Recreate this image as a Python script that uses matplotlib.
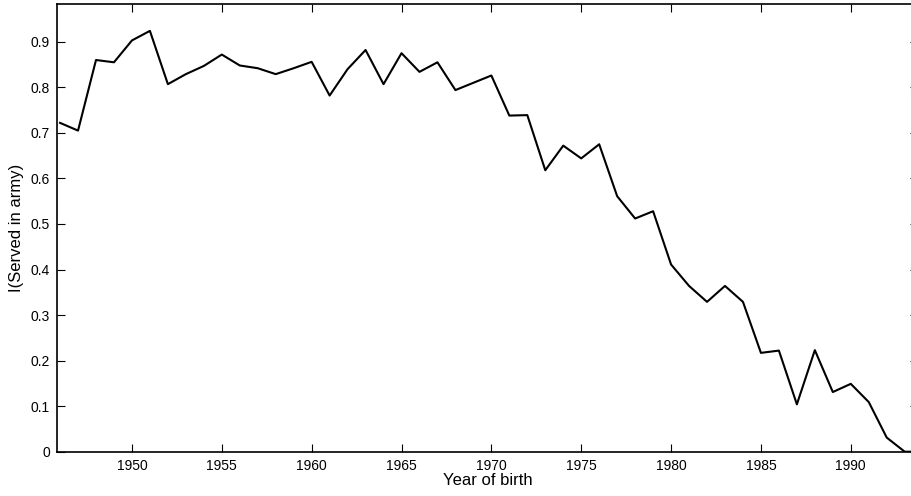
import matplotlib
matplotlib.use('Agg')
import matplotlib.pyplot as plt

# birth cohort and share who served
years = list(range(1946, 1995))
served = [0.722, 0.705, 0.860, 0.855, 0.903, 0.924, 0.807, 0.829, 0.847, 0.872,
          0.848, 0.842, 0.829, 0.842, 0.856, 0.782, 0.840, 0.882, 0.807, 0.875,
          0.834, 0.855, 0.794, 0.810, 0.826, 0.738, 0.739, 0.618, 0.672, 0.644,
          0.675, 0.561, 0.512, 0.528, 0.411, 0.364, 0.329, 0.364, 0.329, 0.217,
          0.222, 0.104, 0.223, 0.131, 0.149, 0.109, 0.031, 0.0, 0.0]

xticks = [1950, 1955, 1960, 1965, 1970, 1975, 1980, 1985, 1990]
yticks = [0, 0.1, 0.2, 0.3, 0.4, 0.5, 0.6, 0.7, 0.8, 0.9]
yticklabels = ['0', '0.1', '0.2', '0.3', '0.4', '0.5', '0.6', '0.7', '0.8', '0.9']

plt.rcParams['font.family'] = ['Liberation Sans', 'DejaVu Sans']

fig = plt.figure(figsize=(9.12, 4.96), dpi=100)
ax = fig.add_axes([57/912, 44.3/496, 861/912, 447.7/496])

ax.plot(years, served, color='black', linewidth=1.5)

ax.set_xlim(1945.83, 1993.74)
ax.set_ylim(0, 0.983)
ax.set_xticks(xticks)
ax.set_yticks(yticks)
ax.set_yticklabels(yticklabels)

ax.tick_params(direction='in', length=6, width=0.8, top=True, right=True,
               labelsize=10, pad=5)
for s in ax.spines.values():
    s.set_linewidth(1.2)

ax.set_xlabel('Year of birth', fontsize=12, labelpad=0)
ax.set_ylabel('I(Served in army)', fontsize=12, labelpad=5)

fig.savefig('out.png', dpi=100)
